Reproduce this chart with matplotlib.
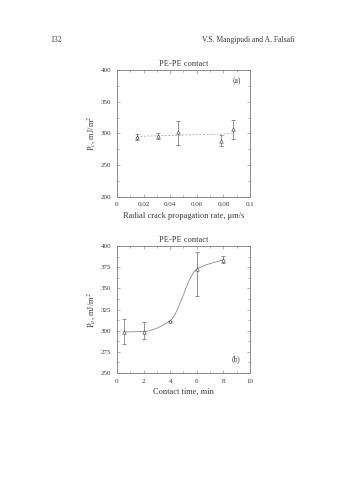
import numpy as np
import matplotlib
matplotlib.use("Agg")
import matplotlib.pyplot as plt
from matplotlib.ticker import MultipleLocator

plt.rcParams["font.family"] = ["Liberation Serif", "DejaVu Serif"]
plt.rcParams["mathtext.fontset"] = "stix"

INK = "#3a3a3a"
FRAME = "#8a8a8a"

# (a) crack propagation rate
rate = [0.015, 0.0305, 0.046, 0.078, 0.087]
pc = [294, 296, 302.5, 288, 307]
pc_lo = [5, 5, 20, 8, 15]
pc_hi = [5, 5, 17, 9, 15]

# (b) contact time
time_min = [0.5, 2, 4, 6, 8]
pa = [298.5, 299, 312, 373, 384]
pa_lo = [14, 9, 0, 32, 4]
pa_hi = [15, 11, 0, 20, 5]


def pchip(x, y, xs):
    # monotone cubic (Fritsch-Carlson) through the measured points
    x = np.asarray(x, float)
    y = np.asarray(y, float)
    h = np.diff(x)
    d = np.diff(y) / h
    m = np.zeros_like(y)
    m[0], m[-1] = d[0], d[-1]
    for k in range(1, len(x) - 1):
        if d[k - 1] * d[k] > 0:
            w1 = 2 * h[k] + h[k - 1]
            w2 = h[k] + 2 * h[k - 1]
            m[k] = (w1 + w2) / (w1 / d[k - 1] + w2 / d[k])
    out = np.empty_like(xs)
    for i, xv in enumerate(xs):
        k = min(max(np.searchsorted(x, xv) - 1, 0), len(x) - 2)
        t = (xv - x[k]) / h[k]
        h00 = 2 * t**3 - 3 * t**2 + 1
        h10 = t**3 - 2 * t**2 + t
        h01 = -2 * t**3 + 3 * t**2
        h11 = t**3 - t**2
        out[i] = h00 * y[k] + h10 * h[k] * m[k] + h01 * y[k + 1] + h11 * h[k] * m[k + 1]
    return out


def style_axes(ax):
    for s in ax.spines.values():
        s.set_color(FRAME)
        s.set_linewidth(0.7)
    ax.tick_params(which="both", direction="in", top=True, right=True,
                   colors=FRAME, labelcolor=INK, labelsize=5, width=0.5, pad=4)
    ax.tick_params(which="major", length=2.5)
    ax.tick_params(which="minor", length=1.3)


fig = plt.figure(figsize=(3.37, 4.8), dpi=100)

fig.text(0.148, 0.912, "132", fontsize=5.5, color=INK, ha="left")
fig.text(0.875, 0.912, "V.S. Mangipudi and A. Falsafi", fontsize=5.5,
         color=INK, ha="right")

# top panel
ax1 = fig.add_axes([0.347, 0.590, 0.395, 0.264])
fit = np.polyfit(rate, pc, 1)
xs = np.linspace(min(rate), max(rate), 50)
ax1.plot(xs, np.polyval(fit, xs), color="#9a9a9a", lw=0.5, ls=(0, (3, 2)))
ax1.errorbar(rate, pc, yerr=[pc_lo, pc_hi], fmt="^", ms=2.5, mfc="white", mec="#555555",
             mew=0.5, ecolor="#666666", elinewidth=0.5, capsize=1.2, capthick=0.5)
ax1.set_xlim(0, 0.1)
ax1.set_ylim(200, 400)
ax1.set_xticks([0, 0.02, 0.04, 0.06, 0.08, 0.1])
ax1.set_xticklabels(["0", "0.02", "0.04", "0.06", "0.08", "0.1"])
ax1.xaxis.set_minor_locator(MultipleLocator(0.01))
ax1.yaxis.set_major_locator(MultipleLocator(50))
ax1.yaxis.set_minor_locator(MultipleLocator(25))
style_axes(ax1)
ax1.set_title("PE-PE contact", fontsize=6, color=INK, pad=3)
ax1.set_xlabel("Radial crack propagation rate, \u03bcm/s", fontsize=6, color=INK, labelpad=3)
ax1.set_ylabel("P$_c$, mJ/m$^2$", fontsize=6, color=INK, labelpad=3)
ax1.text(0.93, 0.90, "(a)", transform=ax1.transAxes, fontsize=5.5, color=INK, ha="right")

# bottom panel
ax2 = fig.add_axes([0.347, 0.223, 0.395, 0.264])
ts = np.linspace(min(time_min), max(time_min), 200)
ax2.plot(ts, pchip(time_min, pa, ts), color="#8a8a8a", lw=0.6)
ax2.errorbar(time_min, pa, yerr=[pa_lo, pa_hi], fmt="^", ms=2.5, mfc="white", mec="#555555",
             mew=0.5, ecolor="#666666", elinewidth=0.5, capsize=1.2, capthick=0.5)
ax2.set_xlim(0, 10)
ax2.set_ylim(250, 400)
ax2.xaxis.set_major_locator(MultipleLocator(2))
ax2.xaxis.set_minor_locator(MultipleLocator(1))
ax2.yaxis.set_major_locator(MultipleLocator(25))
ax2.yaxis.set_minor_locator(MultipleLocator(12.5))
style_axes(ax2)
ax2.set_title("PE-PE contact", fontsize=6, color=INK, pad=3)
ax2.set_xlabel("Contact time, min", fontsize=6, color=INK, labelpad=3)
ax2.set_ylabel("P$_a$, mJ/m$^2$", fontsize=6, color=INK, labelpad=3)
ax2.text(0.93, 0.09, "(b)", transform=ax2.transAxes, fontsize=5.5, color=INK, ha="right")

fig.savefig("out.png", dpi=100, facecolor="white")
